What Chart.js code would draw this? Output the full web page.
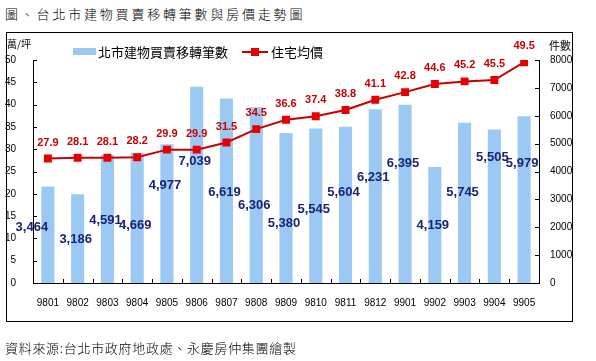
<!DOCTYPE html>
<html>
<head>
<meta charset="utf-8">
<script src="https://cdn.jsdelivr.net/npm/chart.js@4"></script>
<style>
  body { margin: 0; background: #fff; }
  #pagina { position: relative; width: 596px; height: 361px; overflow: hidden; font-family: "Noto Sans CJK TC", sans-serif; }
  #titulo { position: absolute; left: 5px; top: 4px; font-size: 13px; font-weight: 300; letter-spacing: 2.8px; color: #000; }
  #caixa { position: absolute; left: 6px; top: 32px; width: 565px; height: 288px; border: 1px solid #000; }
  #fonte { position: absolute; left: 5px; top: 338px; font-size: 13px; font-weight: 300; letter-spacing: 0.7px; color: #000; }
  canvas { position: absolute; left: 0; top: 0; }
</style>
</head>
<body>
<div id="pagina">
  <div id="titulo">圖、台北市建物買賣移轉筆數與房價走勢圖</div>
  <div id="caixa"></div>
  <canvas id="grafico" width="596" height="361"></canvas>
  <div id="fonte">資料來源:台北市政府地政處、永慶房仲集團繪製</div>
</div>
<script>
const meses = ["9801", "9802", "9803", "9804", "9805", "9806", "9807", "9808", "9809",
  "9810", "9811", "9812", "9901", "9902", "9903", "9904", "9905"];

// 北市建物買賣移轉筆數 (件數, eixo direito)
const transacoes = [3464, 3186, 4591, 4669, 4977, 7039, 6619, 6306, 5380,
  5545, 5604, 6231, 6395, 4159, 5745, 5505, 5979];

// 住宅均價 (萬/坪, eixo esquerdo)
const precos = [27.9, 28.1, 28.1, 28.2, 29.9, 29.9, 31.5, 34.5, 36.6,
  37.4, 38.8, 41.1, 42.8, 44.6, 45.2, 45.5, 49.5];

// altura onde cada rótulo de barra fica, em unidades do eixo direito
const alturaRotulos = [2000, 1550, 2250, 2050, 3500, 4350, 3250, 2800, 2150,
  2650, 3250, 3800, 4300, 2050, 3250, 4500, 4300];

const ticksEsq = { min: 0, max: 50, passo: 5 };
const ticksDir = { min: 0, max: 8000, passo: 1000 };

const corBarra = "#9CC8F4";
const corLinha = "#C80000";
const corPonto = "#E60000";
const corRotuloBarra = "#1B2472";

const extrasPlugin = {
  id: "extras",
  afterDraw(chart) {
    const { ctx, chartArea, scales } = chart;
    const { left, right, top, bottom } = chartArea;
    ctx.save();

    // marcas internas dos eixos
    ctx.strokeStyle = "#000";
    ctx.lineWidth = 1;
    ctx.beginPath();
    scales.y.ticks.forEach((t) => {
      const y = Math.round(scales.y.getPixelForValue(t.value)) + 0.5;
      ctx.moveTo(left, y);
      ctx.lineTo(left + 4, y);
    });
    scales.y1.ticks.forEach((t) => {
      const y = Math.round(scales.y1.getPixelForValue(t.value)) + 0.5;
      ctx.moveTo(right - 4, y);
      ctx.lineTo(right, y);
    });
    const passoX = (right - left) / meses.length;
    for (let i = 1; i < meses.length; i++) {
      const x = Math.round(left + passoX * i) + 0.5;
      ctx.moveTo(x, bottom);
      ctx.lineTo(x, bottom - 4);
    }
    ctx.stroke();

    // rótulos das barras
    ctx.textAlign = "center";
    ctx.textBaseline = "middle";
    ctx.font = "bold 13px 'Liberation Sans', Arial, sans-serif";
    ctx.fillStyle = corRotuloBarra;
    chart.getDatasetMeta(0).data.forEach((barra, i) => {
      const y = scales.y1.getPixelForValue(alturaRotulos[i]);
      const dx = i === 0 ? -16 : -2;
      ctx.fillText(transacoes[i].toLocaleString("en-US"), barra.x + dx, y);
    });

    // rótulos da linha
    ctx.font = "bold 11px 'Liberation Sans', Arial, sans-serif";
    ctx.fillStyle = corLinha;
    chart.getDatasetMeta(1).data.forEach((ponto, i) => {
      ctx.fillText(precos[i].toFixed(1), ponto.x, ponto.y - 16);
    });

    // unidades dos eixos
    ctx.fillStyle = "#000";
    ctx.font = "10px 'Noto Sans CJK TC', sans-serif";
    ctx.textAlign = "left";
    ctx.fillText("萬/坪", 7, 44);
    ctx.font = "11px 'Noto Sans CJK TC', sans-serif";
    ctx.fillText("件數", 549, 46);

    // legenda customizada
    ctx.font = "13px 'Noto Sans CJK TC', sans-serif";
    ctx.fillStyle = corBarra;
    ctx.fillRect(73, 48, 23, 7);
    ctx.fillStyle = "#000";
    ctx.fillText("北市建物買賣移轉筆數", 98, 52);
    ctx.strokeStyle = corLinha;
    ctx.lineWidth = 2;
    ctx.beginPath();
    ctx.moveTo(242, 52);
    ctx.lineTo(268, 52);
    ctx.stroke();
    ctx.fillStyle = corPonto;
    ctx.fillRect(251, 48, 8, 8);
    ctx.fillStyle = "#000";
    ctx.fillText("住宅均價", 271, 52);

    ctx.restore();
  },
};

const fonteTicks = { family: "'Liberation Sans', Arial, sans-serif", size: 10 };

new Chart(document.getElementById("grafico").getContext("2d"), {
  plugins: [extrasPlugin],
  data: {
    labels: meses,
    datasets: [
      {
        type: "bar",
        label: "北市建物買賣移轉筆數",
        data: transacoes,
        yAxisID: "y1",
        backgroundColor: corBarra,
        categoryPercentage: 1,
        barPercentage: 0.44,
        order: 1,
      },
      {
        type: "line",
        label: "住宅均價",
        data: precos,
        yAxisID: "y",
        borderColor: corLinha,
        borderWidth: 2,
        pointStyle: "rect",
        pointRadius: 5.6,
        pointBackgroundColor: corPonto,
        pointBorderColor: corPonto,
        pointBorderWidth: 0,
        order: 0,
      },
    ],
  },
  options: {
    responsive: false,
    animation: false,
    layout: { padding: { left: 0, right: 0, top: 60, bottom: 48 } },
    plugins: {
      legend: { display: false },
      tooltip: { enabled: false },
    },
    scales: {
      x: {
        offset: true,
        grid: { display: false, drawTicks: false },
        border: { display: true, color: "#000" },
        ticks: { color: "#000", font: fonteTicks, padding: 14, maxRotation: 0, autoSkip: false },
        afterFit: (scale) => { scale.height = 30; },
      },
      y: {
        position: "left",
        min: ticksEsq.min,
        max: ticksEsq.max,
        grid: { display: false, drawTicks: false },
        border: { display: true, color: "#000" },
        ticks: { stepSize: ticksEsq.passo, color: "#000", font: fonteTicks, padding: 17 },
        afterFit: (scale) => { scale.width = 33; },
      },
      y1: {
        position: "right",
        min: ticksDir.min,
        max: ticksDir.max,
        grid: { display: false, drawTicks: false },
        border: { display: true, color: "#000" },
        ticks: {
          stepSize: ticksDir.passo,
          color: "#000",
          font: fonteTicks,
          padding: 11,
          callback: (v) => String(v),
        },
        afterFit: (scale) => { scale.width = 57; },
      },
    },
  },
});
</script>
</body>
</html>
